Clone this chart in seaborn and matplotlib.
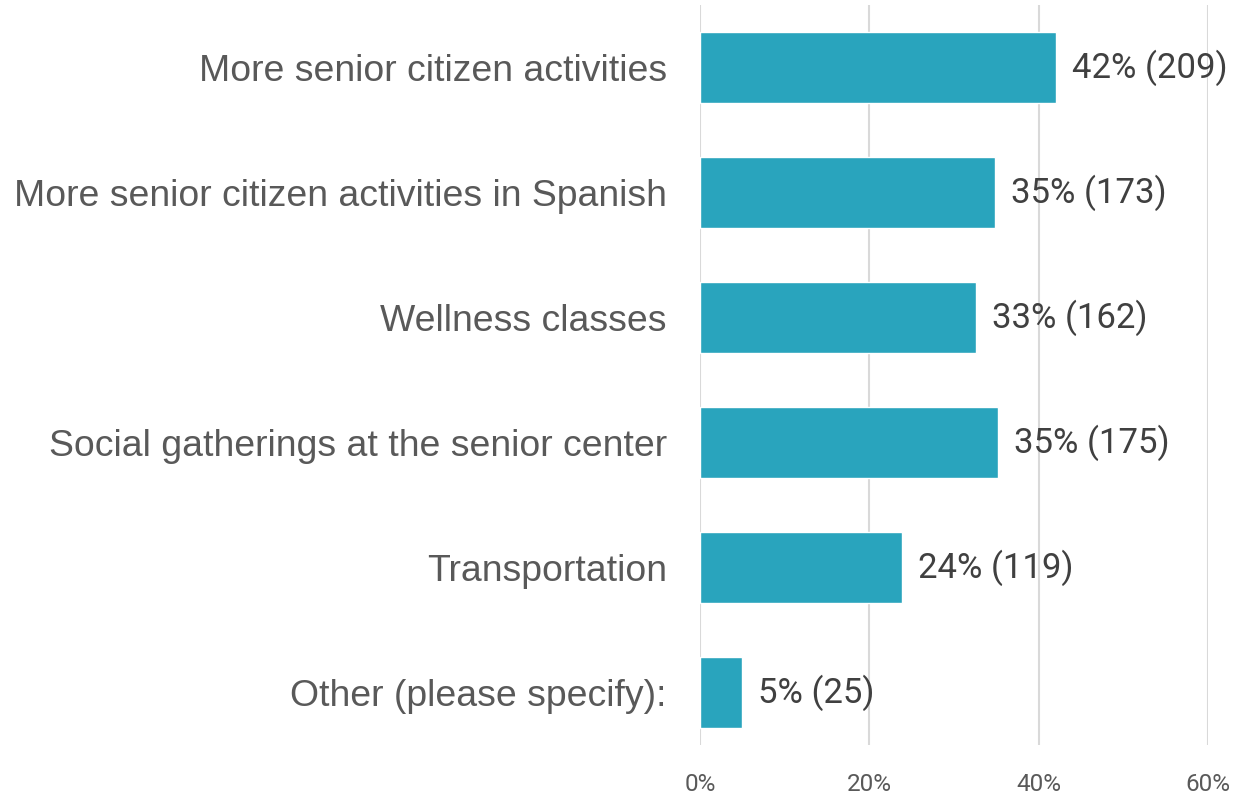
import pandas as pd
import seaborn as sns
import matplotlib.pyplot as plt
from matplotlib.ticker import PercentFormatter

sns.set_theme(style='white')
plt.rcParams['font.family'] = ['Liberation Sans', 'DejaVu Sans']

categories = ['More senior citizen activities',
              'More senior citizen activities in Spanish',
              'Wellness classes',
              'Social gatherings at the senior center',
              'Transportation',
              'Other (please specify):']
percents = [42.1, 34.8, 32.6, 35.2, 23.9, 5.0]
counts = [209, 173, 162, 175, 119, 25]
x_ticks = [0, 20, 40, 60]

df = pd.DataFrame({'category': categories, 'pct': percents, 'n': counts})

fig = plt.figure(figsize=(12.55, 7.95), dpi=100)
ax = fig.add_axes([0.5578, 0.0629, 0.4047, 0.9308])

sns.barplot(data=df, x='pct', y='category', color='#29A4BD', saturation=1,
            width=0.57, ax=ax)

for i, row in df.iterrows():
    ax.text(row.pct + 1.9, i, f"{row.pct:.0f}% ({row.n})", va='center', ha='left',
            fontsize=25, color='#404040', family=['Roboto', 'DejaVu Sans'])

ax.set_xlim(0, 60)
ax.set_ylim(5.42, -0.5)
ax.set_xticks(x_ticks)
ax.xaxis.set_major_formatter(PercentFormatter(decimals=0))
ax.grid(axis='x', color='#d9d9d9', linewidth=1.5)
ax.set_axisbelow(True)
ax.tick_params(axis='x', length=0, pad=20, labelsize=17.5, labelcolor='#595959')
ax.tick_params(axis='y', length=0, pad=24, labelsize=26.9, labelcolor='#595959')
for lbl in ax.get_xticklabels():
    lbl.set_family(['Roboto', 'DejaVu Sans'])
ax.set_xlabel('')
ax.set_ylabel('')
sns.despine(ax=ax, left=True, bottom=True)

plt.savefig('out.png', dpi=100)
